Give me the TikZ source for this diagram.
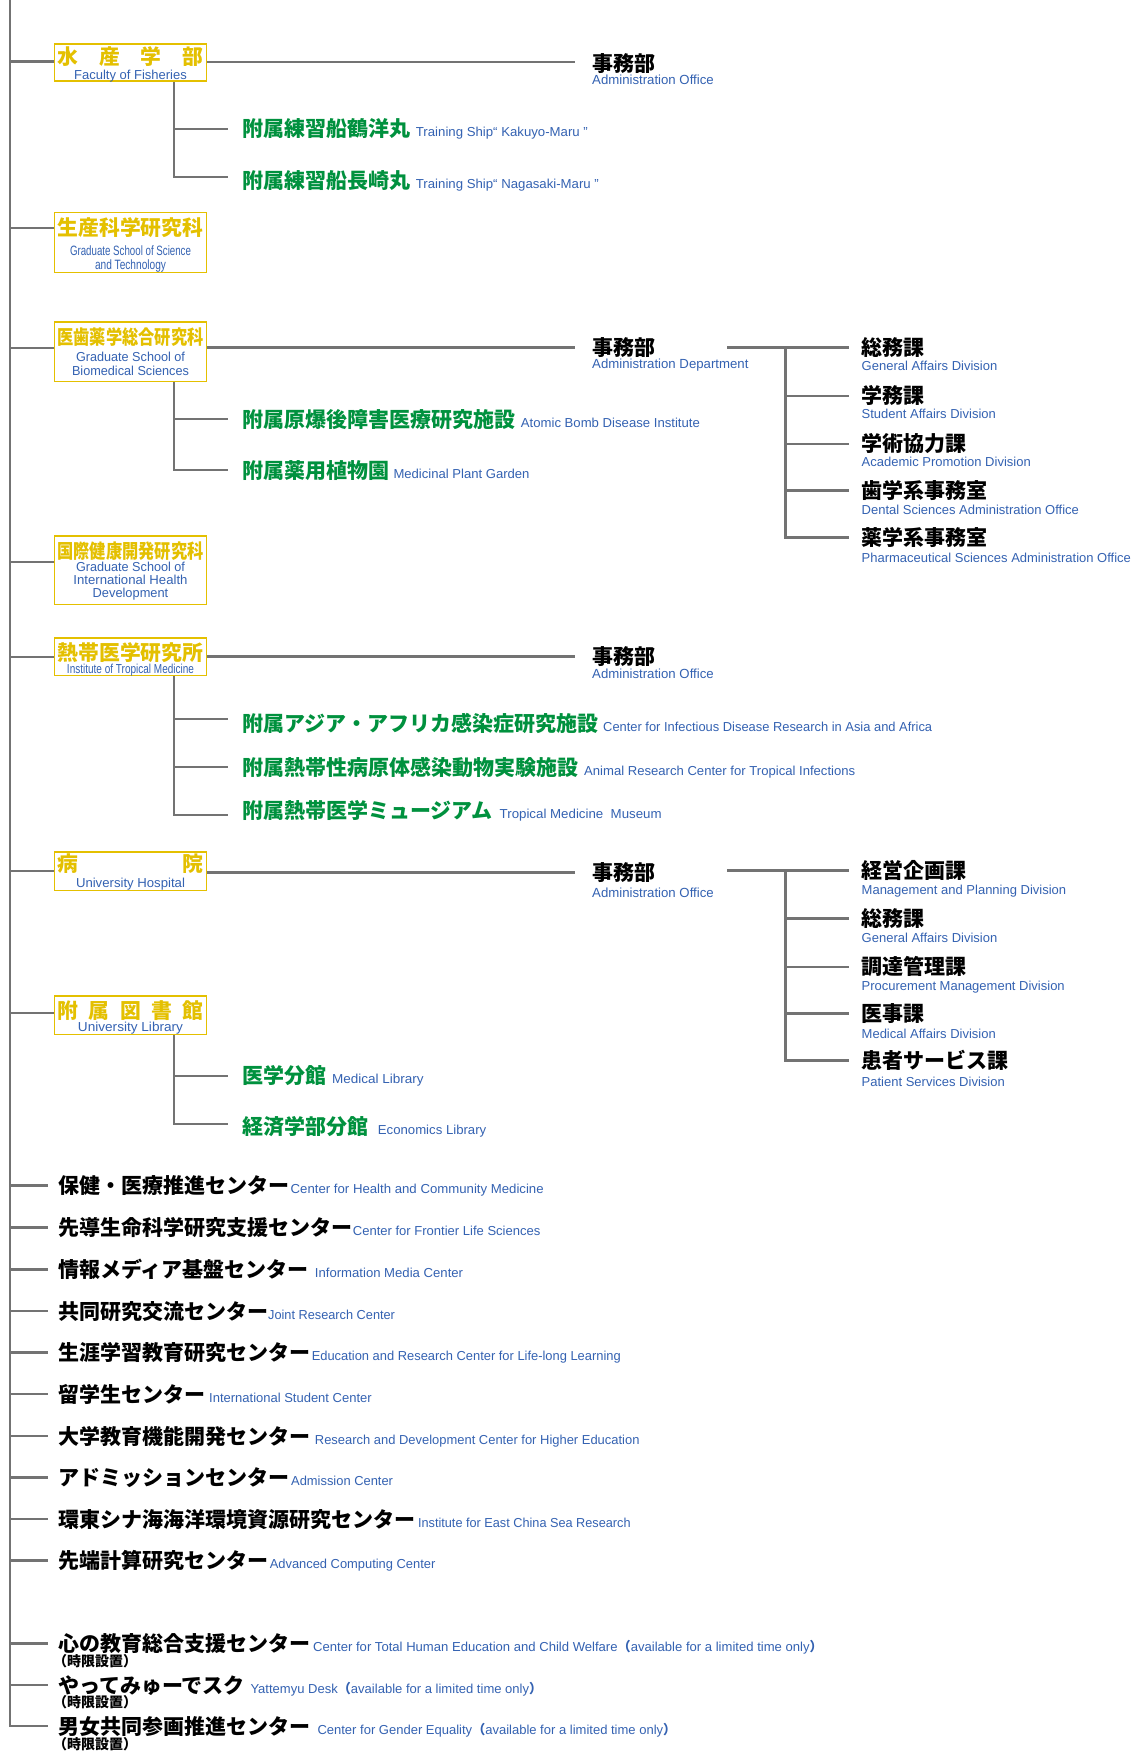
\documentclass[tikz,border=0pt]{standalone}
\usepackage{graphicx}
\usepackage{fontspec}
\setmainfont{Liberation Sans}
\newfontfamily\jp{Noto Sans CJK JP}
\definecolor{ylw}{RGB}{228,192,0}
\definecolor{grn}{RGB}{0,145,62}
\definecolor{blu}{RGB}{52,98,178}
\definecolor{gln}{RGB}{115,115,115}
\newcommand{\fitw}[2]{\resizebox{#1pt}{\height}{#2}}
\newcommand{\fp}[1]{\fontsize{#1}{#1}\selectfont}
\newcommand{\lpar}{{\jp\bfseries （}}
\newcommand{\rpar}{{\jp\bfseries ）}}
\tikzset{
  ln/.style={draw=gln, line width=2.2pt},
  ybox/.style={draw=ylw, line width=1.6pt, minimum width=152pt, inner sep=0pt, fill=white},
  yj/.style={font=\jp\bfseries\fp{20.8}, text=ylw, inner sep=0pt, anchor=center, text height=18.3pt, text depth=2.5pt},
  ye/.style={font=\fp{13}, text=blu, inner sep=0pt, anchor=base},
  jk/.style={font=\jp\bfseries\fp{21}, text=black, inner sep=0pt, anchor=west, text height=18.5pt, text depth=2.5pt},
  gj/.style={jk, text=grn},
  en/.style={font=\fp{13}, text=blu, inner sep=0pt, anchor=base west},
  tj/.style={font=\jp\bfseries\fp{14}, text=black, inner sep=0pt, anchor=west, text height=12.3pt, text depth=1.7pt},
}
\begin{document}
\begin{tikzpicture}[x=1pt,y=-1pt]
\useasboundingbox (0,0) rectangle (1133,1752);
\fill[white] (0,0) rectangle (1133,1752);
\coordinate (top) at (10,0);

% ---------- boxes ----------
\node[ybox, minimum height=37.2pt] (fish) at (130.5,62.6) {};
\node[yj] (fishj) at (130.5,56.8) {\makebox[146pt]{水\hfill 産\hfill 学\hfill 部}};
\node[ye] (fishe) at (130.5,79.6) {Faculty of Fisheries};

\node[ybox, minimum height=59.9pt] (prod) at (130.5,242.65) {};
\node[yj] (prodj) at (130.5,227.7) {生産科学研究科};
\node[ye, font=\fp{13.5}] (prode1) at (130.5,255.2) {\fitw{121}{Graduate School of Science}};
\node[ye, font=\fp{13.5}] (prode2) at (130.5,269.3) {\fitw{71}{and Technology}};

\node[ybox, minimum height=59.2pt] (med) at (130.5,351.7) {};
\node[yj] (medj) at (130.5,336.7) {\fitw{146}{\fp{19.5}医歯薬学総合研究科}};
\node[ye] (mede1) at (130.5,361.2) {\fitw{109}{Graduate School of}};
\node[ye] (mede2) at (130.5,375.2) {\fitw{117}{Biomedical Sciences}};

\node[ybox, minimum height=68.5pt] (intl) at (130.5,570.35) {};
\node[yj] (intlj) at (130.5,550.7) {\fitw{146}{\fp{19.5}国際健康開発研究科}};
\node[ye] (intle1) at (130.5,571.2) {\fitw{109}{Graduate School of}};
\node[ye] (intle2) at (130.5,584.5) {\fitw{114}{International Health}};
\node[ye] (intle3) at (130.5,597.8) {\fitw{75.6}{Development}};

\node[ybox, minimum height=37.9pt] (trop) at (130.5,656.65) {};
\node[yj] (tropj) at (130.5,652.7) {熱帯医学研究所};
\node[ye] (trope) at (130.5,673.3) {\fitw{127}{Institute of Tropical Medicine}};

\node[ybox, minimum height=38.2pt] (hosp) at (130.5,871.2) {};
\node[yj] (hospj) at (130.5,864) {\makebox[146pt]{病\hfill 院}};
\node[ye] (hospe) at (130.5,887.8) {\fitw{109}{University Hospital}};

\node[ybox, minimum height=38.2pt] (lib) at (130.5,1015.2) {};
\node[yj] (libj) at (130.5,1010.7) {\makebox[146pt]{附\hfill 属\hfill 図\hfill 書\hfill 館}};
\node[ye] (libe) at (130.5,1031.2) {\fitw{105}{University Library}};

% connector points on box west edges
\coordinate (fishL) at (fish.west |- 0,61.5);
\coordinate (prodL) at (prod.west |- 0,228);
\coordinate (medL) at (med.west |- 0,347.7);
\coordinate (intlL) at (intl.west |- 0,561.7);
\coordinate (tropL) at (trop.west |- 0,656.7);
\coordinate (hospL) at (hosp.west |- 0,870.7);
\coordinate (libL) at (lib.west |- 0,1013.3);

% ---------- administration offices ----------
\node[jk] (a1) at (592,64) {事務部};
\node[en, font=\fp{13.2}] (a1e) at (592,84.5) {Administration Office};
\node[jk] (a2) at (592,347.5) {事務部};
\node[en, font=\fp{13.2}] (a2e) at (592,368) {Administration Department};
\node[jk] (a3) at (592,656.5) {事務部};
\node[en, font=\fp{13.2}] (a3e) at (592,678) {Administration Office};
\node[jk] (a4) at (592,872.5) {事務部};
\node[en, font=\fp{13.2}] (a4e) at (592,897) {Administration Office};
\coordinate (a1l) at (575,62);

% ---------- medical divisions ----------
\node[jk] (m1) at (861.5,347.5) {総務課};
\node[en] (m1e) at (861.5,370.5) {General Affairs Division};
\node[jk] (m2) at (861.5,395.6) {学務課};
\node[en] (m2e) at (861.5,418.5) {Student Affairs Division};
\node[jk] (m3) at (861.5,443.6) {学術協力課};
\node[en] (m3e) at (861.5,466.5) {Academic Promotion Division};
\node[jk] (m4) at (861.5,490.5) {歯学系事務室};
\node[en] (m4e) at (861.5,514) {Dental Sciences Administration Office};
\node[jk] (m5) at (861.5,537.5) {薬学系事務室};
\node[en] (m5e) at (861.5,562) {Pharmaceutical Sciences Administration Office};

% ---------- hospital divisions ----------
\node[jk] (h1) at (861.5,870.5) {経営企画課};
\node[en] (h1e) at (861.5,894) {Management and Planning Division};
\node[jk] (h2) at (861.5,918.5) {総務課};
\node[en] (h2e) at (861.5,942) {General Affairs Division};
\node[jk] (h3) at (861.5,966.6) {調達管理課};
\node[en] (h3e) at (861.5,990) {Procurement Management Division};
\node[jk] (h4) at (861.5,1013.5) {医事課};
\node[en] (h4e) at (861.5,1038) {Medical Affairs Division};
\node[jk] (h5) at (861.5,1060.4) {患者サービス課};
\node[en] (h5e) at (861.5,1086) {Patient Services Division};

% ---------- attached facilities (green) ----------
\node[gj] (g1) at (242,129) {附属練習船鶴洋丸};
\node[en] (g1e) at (415.7,0 |- g1.base) {\fitw{172}{Training Ship“ Kakuyo-Maru ”}};
\node[gj] (g2) at (242,181) {附属練習船長崎丸};
\node[en] (g2e) at (415.7,0 |- g2.base) {\fitw{183}{Training Ship“ Nagasaki-Maru ”}};
\node[gj] (g3) at (242,419) {附属原爆後障害医療研究施設};
\node[en] (g3e) at (520.7,0 |- g3.base) {\fitw{179}{Atomic Bomb Disease Institute}};
\node[gj] (g4) at (242,470) {附属薬用植物園};
\node[en] (g4e) at (393.3,0 |- g4.base) {\fitw{136}{Medicinal Plant Garden}};
\node[gj] (g5) at (242,723.5) {附属アジア・アフリカ感染症研究施設};
\node[en] (g5e) at (603,0 |- g5.base) {\fitw{329}{Center for Infectious Disease Research in Asia and Africa}};
\node[gj] (g6) at (242,767.5) {附属熱帯性病原体感染動物実験施設};
\node[en] (g6e) at (584,0 |- g6.base) {\fitw{271}{Animal Research Center for Tropical Infections}};
\node[gj] (g7) at (242,810) {附属熱帯医学ミュージアム};
\node[en] (g7e) at (499.5,0 |- g7.base) {\fitw{162}{Tropical Medicine\ \ Museum}};
\node[gj] (g8) at (242,1075.5) {医学分館};
\node[en] (g8e) at (331.9,0 |- g8.base) {\fitw{91.6}{Medical Library}};
\node[gj] (g9) at (242,1126.5) {経済学部分館};
\node[en] (g9e) at (377.7,0 |- g9.base) {\fitw{108.4}{Economics Library}};

% branch ends in front of the green labels
\coordinate (b1) at (228,129);
\coordinate (b2) at (228,176.7);
\coordinate (b3) at (228,419);
\coordinate (b4) at (228,470);
\coordinate (b5) at (228,719);
\coordinate (b6) at (228,767);
\coordinate (b7) at (228,815);
\coordinate (b8) at (228,1076);
\coordinate (b9) at (228,1124);

% ---------- centers ----------
\node[jk] (c1) at (58,1185.5) {保健・医療推進センター};
\node[en] (c1e) at (290.5,0 |- c1.base) {\fitw{253}{Center for Health and Community Medicine}};
\node[jk] (c2) at (58,1227.5) {先導生命科学研究支援センター};
\node[en] (c2e) at (352.7,0 |- c2.base) {\fitw{187.5}{Center for Frontier Life Sciences}};
\node[jk] (c3) at (58,1269.5) {情報メディア基盤センター};
\node[en] (c3e) at (314.7,0 |- c3.base) {\fitw{148.2}{Information Media Center}};
\node[jk] (c4) at (58,1311) {共同研究交流センター};
\node[en] (c4e) at (268,0 |- c4.base) {\fitw{126.8}{Joint Research Center}};
\node[jk] (c5) at (58,1352.5) {生涯学習教育研究センター};
\node[en] (c5e) at (311.6,0 |- c5.base) {\fitw{309}{Education and Research Center for Life-long Learning}};
\node[jk] (c6) at (58,1394) {留学生センター};
\node[en] (c6e) at (209,0 |- c6.base) {\fitw{162.5}{International Student Center}};
\node[jk] (c7) at (58,1436) {大学教育機能開発センター};
\node[en] (c7e) at (314.7,0 |- c7.base) {\fitw{324.6}{Research and Development Center for Higher Education}};
\node[jk] (c8) at (58,1477.5) {アドミッションセンター};
\node[en] (c8e) at (291,0 |- c8.base) {\fitw{101.8}{Admission Center}};
\node[jk] (c9) at (58,1519) {環東シナ海海洋環境資源研究センター};
\node[en] (c9e) at (417.9,0 |- c9.base) {\fitw{212.5}{Institute for East China Sea Research}};
\node[jk] (c10) at (58,1560.5) {先端計算研究センター};
\node[en] (c10e) at (269.6,0 |- c10.base) {\fitw{165.6}{Advanced Computing Center}};
\node[jk] (c11) at (58,1643.5) {心の教育総合支援センター};
\node[en] (c11e) at (313,0 |- c11.base) {\fitw{509.5}{Center for Total Human Education and Child Welfare\lpar available for a limited time only\rpar}};
\node[tj] (t11) at (53,1661) {（時限設置）};
\node[jk] (c12) at (58,1685) {やってみゅーでスク};
\node[en] (c12e) at (250.3,0 |- c12.base) {\fitw{291.7}{Yattemyu Desk\lpar available for a limited time only\rpar}};
\node[tj] (t12) at (53,1702) {（時限設置）};
\node[jk] (c13) at (58,1726) {男女共同参画推進センター};
\node[en] (c13e) at (317.3,0 |- c13.base) {\fitw{358.7}{Center for Gender Equality\lpar available for a limited time only\rpar}};
\node[tj] (t13) at (53,1744.5) {（時限設置）};

% ---------- connectors ----------
% trunk
\draw[ln] (top) |- ([xshift=-10]c13.west);
\foreach \b in {fishL,prodL,medL,intlL,tropL,hospL,libL}
  \draw[ln] (top |- \b) -- (\b);
\foreach \c in {c1,c2,c3,c4,c5,c6,c7,c8,c9,c10,c11,c12}
  \draw[ln] (top |- \c.west) -- ([xshift=-10]\c.west);

% box -> administration
\draw[ln] (fish.east |- a1l) -- (a1l);
\draw[ln] (med.east |- a2.west) -- ([xshift=-17]a2.west);
\draw[ln] (trop.east |- a3.west) -- ([xshift=-17]a3.west);
\draw[ln] (hosp.east |- a4.west) -- ([xshift=-17]a4.west);

% administration -> divisions (medical)
\coordinate (a2r) at (727,0 |- m1.west);
\coordinate (ms) at (785.5,0 |- m1.west);
\draw[ln] (a2r) -- ([xshift=-12.5]m1.west);
\draw[ln] (ms) |- ([xshift=-12.5]m5.west);
\foreach \d in {m2,m3,m4}
  \draw[ln] (ms |- \d.west) -- ([xshift=-12.5]\d.west);

% administration -> divisions (hospital)
\coordinate (a4r) at (727,0 |- h1.west);
\coordinate (hs) at (785.5,0 |- h1.west);
\draw[ln] (a4r) -- ([xshift=-12.5]h1.west);
\draw[ln] (hs) |- ([xshift=-12.5]h5.west);
\foreach \d in {h2,h3,h4}
  \draw[ln] (hs |- \d.west) -- ([xshift=-12.5]\d.west);

% sub-trees to attached facilities
\coordinate (fs) at (174,0 |- fish.south);
\draw[ln] (fs) |- (b2);
\draw[ln] (fs |- b1) -- (b1);

\coordinate (mds) at (174,0 |- med.south);
\draw[ln] (mds) |- (b4);
\draw[ln] (mds |- b3) -- (b3);

\coordinate (ts) at (174,0 |- trop.south);
\draw[ln] (ts) |- (b7);
\draw[ln] (ts |- b5) -- (b5);
\draw[ln] (ts |- b6) -- (b6);

\coordinate (ls) at (174,0 |- lib.south);
\draw[ln] (ls) |- (b9);
\draw[ln] (ls |- b8) -- (b8);
\end{tikzpicture}
\end{document}
